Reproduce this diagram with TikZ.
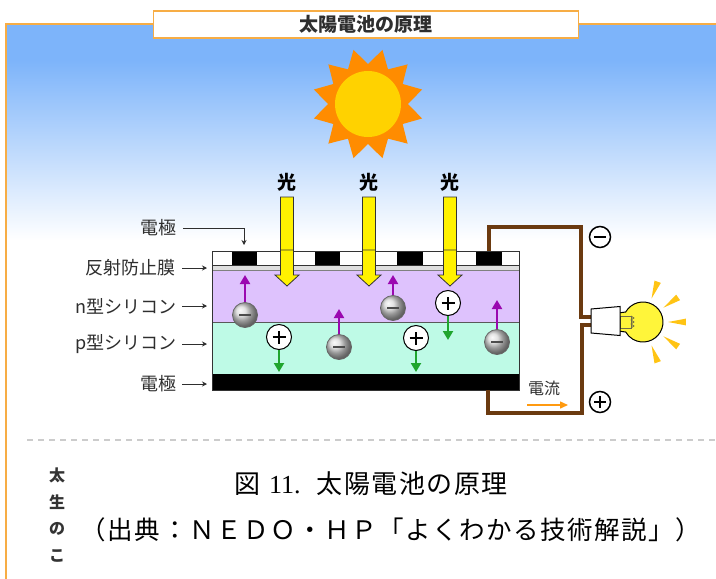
\documentclass[tikz,border=0pt]{standalone}
\usepackage{fontspec}
\setmainfont{Liberation Serif}
\newfontfamily\jp{Noto Sans CJK JP}
\newfontfamily\jpwide{Noto Sans CJK JP}[LetterSpace=6]
\usetikzlibrary{arrows.meta,calc}

\definecolor{skytop}{HTML}{7DB4FA}
\definecolor{frameor}{HTML}{F7AD45}
\definecolor{wirebrown}{HTML}{6B3A10}
\definecolor{ntype}{HTML}{DEC2FD}
\definecolor{ptype}{HTML}{BEFAE6}
\definecolor{lightyel}{HTML}{FFF200}
\definecolor{sunray}{HTML}{FF8C00}
\definecolor{suncore}{HTML}{FFD200}
\definecolor{purp}{HTML}{9A08B0}
\definecolor{grn}{HTML}{1FA52E}
\definecolor{bulbyel}{HTML}{FFF53A}
\definecolor{rayyel}{HTML}{FFC414}
\definecolor{txt}{HTML}{2E2E2E}
\definecolor{curor}{HTML}{FF9A10}

% sky: solid blue at the top, fading to white further down
% (the visible part of a fitted shading is its 25bp--75bp band)
\pgfdeclareverticalshading{sky}{100bp}{color(0bp)=(white); color(26bp)=(white); color(67bp)=(skytop); color(100bp)=(skytop)}

\tikzset{
  frameline/.style={frameor, line width=2.4pt},
  titlebox/.style={draw=frameor, line width=1.6pt, fill=white, minimum width=425pt,
    minimum height=27pt, inner sep=0pt, font=\jp\bfseries\fontsize{19}{22}\selectfont, text=txt},
  lightlbl/.style={font=\jp\bfseries\fontsize{19}{22}\selectfont, text=black, inner sep=0pt},
  lightarrow/.style={fill=lightyel, draw=black!80, line width=0.8pt, line join=miter},
  lbl/.style={font=\jp\fontsize{18}{21}\selectfont, text=txt, anchor=east, inner sep=0pt},
  lblarrow/.style={draw=txt, line width=1pt, -{Stealth[length=5pt,width=5pt]}},
  electron/.style={circle, inner sep=0pt, minimum size=25pt, draw=black!60, line width=0.8pt,
    shade, ball color=gray!30,
    path picture={\draw[line width=2pt, black!70]
      ([xshift=-6pt]path picture bounding box.center) -- ([xshift=6pt]path picture bounding box.center);}},
  hole/.style={circle, inner sep=0pt, minimum size=25pt, draw=black, line width=1pt, fill=white,
    path picture={\draw[line width=1.6pt, black]
      ([xshift=-6.5pt]path picture bounding box.center) -- ([xshift=6.5pt]path picture bounding box.center)
      ([yshift=-6.5pt]path picture bounding box.center) -- ([yshift=6.5pt]path picture bounding box.center);}},
  eup/.style={purp, line width=2pt, -{Triangle[width=10pt,length=9pt]}},
  hdown/.style={grn, line width=2pt, -{Triangle[width=10pt,length=9pt]}},
  wire/.style={wirebrown, line width=3.5pt, line join=miter},
  sgnm/.style={circle, inner sep=0pt, minimum size=21pt, draw=black, line width=1.5pt, fill=white,
    path picture={\draw[line width=1.8pt, black]
      ([xshift=-6pt]path picture bounding box.center) -- ([xshift=6pt]path picture bounding box.center);}},
  sgnp/.style={circle, inner sep=0pt, minimum size=21pt, draw=black, line width=1.5pt, fill=white,
    path picture={\draw[line width=1.8pt, black]
      ([xshift=-6pt]path picture bounding box.center) -- ([xshift=6pt]path picture bounding box.center)
      ([yshift=-6pt]path picture bounding box.center) -- ([yshift=6pt]path picture bounding box.center);}},
}

\begin{document}
\begin{tikzpicture}[x=1pt,y=-1pt]
\useasboundingbox (0,0) rectangle (716,579);
\fill[white] (0,0) rectangle (716,579);

% sky and frame
\shade[shading=sky] (7,25) rectangle (716,245);
\draw[frameline] (6,579) -- (6,24) -- (716,24);
\node[titlebox] (title) at (366,24.5) {太陽電池の原理};

% sun
\coordinate (sun) at (368,104);
\fill[sunray, shift={(368,104)}] (15:56)
  \foreach \i [evaluate=\i as \r using {56-16*mod(\i,2)}] in {1,...,23} { -- ({15+15*\i}:\r) } -- cycle;
\fill[suncore] (sun) circle[radius=33];

% incoming light
\foreach \x/\n in {287/1,369/2,450/3} {
  \node[lightlbl] (light\n) at (\x,182) {光};
  \filldraw[lightarrow] (\x-6.5,197) -- (\x+6.5,197) -- (\x+6.5,275) -- (\x+12,275)
    -- (\x,286) -- (\x-12,275) -- (\x-6.5,275) -- cycle;
}

% cell layers
\fill[ntype] (212,271) rectangle (519,322);
\fill[ptype] (212,322) rectangle (519,374);
\fill[black] (212,374) rectangle (519,390);
\draw[black!65, line width=1pt] (212,322) -- (519,322);
\fill[gray!25] (212,265) rectangle (519,271);
\draw[black!75, line width=1pt] (212,265.5) -- (519,265.5);
\draw[gray, line width=1pt] (212,270.5) -- (519,270.5);
\filldraw[fill=white, draw=black!80, line width=1pt] (212,251) rectangle (519,265);
\foreach \a/\b in {232/257,315/340,397/423,476/502}
  \fill[black] (\a,251) rectangle (\b,265);
\draw[black!80, line width=1pt] (212,251) rectangle (519,390);

% light arrows pass over the cell surface
\foreach \x in {287,369,450}
  \filldraw[lightarrow] (\x-6.5,250) -- (\x+6.5,250) -- (\x+6.5,275) -- (\x+12,275)
    -- (\x,286) -- (\x-12,275) -- (\x-6.5,275) -- cycle;

% layer labels
\node[lbl] (lE1) at (177,228) {電極};
\node[lbl] (lAR) at (176,268) {反射防止膜};
\node[lbl] (lN)  at (177,306) {n型シリコン};
\node[lbl] (lP)  at (177,344) {p型シリコン};
\node[lbl] (lE2) at (177,384) {電極};
\coordinate (tE1) at (244,245);
\coordinate (tAR) at (207,268);
\coordinate (tN)  at (207,306);
\coordinate (tP)  at (207,344);
\coordinate (tE2) at (207,384);
\draw[lblarrow] ([xshift=6pt]lE1.east) -| (tE1);
\draw[lblarrow] ([xshift=6pt]lAR.east) -- (tAR);
\draw[lblarrow] ([xshift=5pt]lN.east) -- (tN);
\draw[lblarrow] ([xshift=5pt]lP.east) -- (tP);
\draw[lblarrow] ([xshift=5pt]lE2.east) -- (tE2);

% electrons and holes
\node[electron] (m1) at (245,315) {};
\node[electron] (m2) at (339,347) {};
\node[electron] (m3) at (393,308) {};
\node[electron] (m4) at (497,342) {};
\node[hole] (p1) at (279,337) {};
\node[hole] (p2) at (448,303) {};
\node[hole] (p3) at (416,338) {};
\coordinate (m1t) at (245,275);
\coordinate (m2t) at (339,309);
\coordinate (m3t) at (393,275);
\coordinate (m4t) at (497,300);
\coordinate (p1t) at (279,372);
\coordinate (p2t) at (448,340);
\coordinate (p3t) at (416,372);
\draw[eup] (m1.north) -- (m1t);
\draw[eup] (m2.north) -- (m2t);
\draw[eup] (m3.north) -- (m3t);
\draw[eup] (m4.north) -- (m4t);
\draw[hdown] (p1.south) -- (p1t);
\draw[hdown] (p2.south) -- (p2t);
\draw[hdown] (p3.south) -- (p3t);

% external circuit
\coordinate (wa) at (489,251);
\coordinate (wb) at (581,227);
\coordinate (bu1) at (592,317);
\coordinate (wc) at (488,390);
\coordinate (wd) at (582,413);
\coordinate (bu2) at (592,325);
\draw[wire] (wa) |- (wb) |- (bu1);
\draw[wire] (wc) |- (wd) |- (bu2);
\node[sgnm] (minus) at (600,237) {};
\node[sgnp] (plus) at (600,402) {};
\node[font=\jp\fontsize{16}{18}\selectfont, text=txt, inner sep=0pt] (cur) at (544,388) {電流};
\coordinate (ca) at (527,405);
\coordinate (cb) at (568,405);
\draw[curor, line width=1.5pt, -{Triangle[width=7pt,length=8pt]}] (ca) -- (cb);

% light bulb
\coordinate (bc) at (643,322);
\foreach \a in {-70,-35,0,35,70}
  \fill[rayyel] ($(bc)+(\a:25)$) -- ($(bc)+(\a-4.5:43)$) -- ($(bc)+(\a+4.5:43)$) -- cycle;
\filldraw[fill=bulbyel, draw=black, line width=1pt] (618,313) -- ($(bc)+(210:20)$)
  arc[start angle=210, end angle=510, radius=20] -- (618,331) -- cycle;
\draw[black!55!yellow!80!black, line width=0.9pt] (620,316) rectangle (631,328);
\draw[black!55!yellow!80!black, line width=0.8pt] (631,316) -- (634,318) -- (631,320)
  -- (634,322) -- (631,324) -- (634,326) -- (631,328);
\filldraw[fill=white, draw=black, line width=1pt] (591,309) -- (620,306.5) -- (620,335.5) -- (591,333) -- cycle;

% separator and caption
\draw[gray!40, line width=1.6pt, dash pattern=on 6pt off 5pt] (27,440) -- (716,440);
\node[font=\jp\bfseries\fontsize{16}{26.5}\selectfont, text=black!80, align=center, inner sep=0pt]
  (side) at (57,515) {太\\生\\の\\こ};
\node[font=\fontsize{26}{30}\selectfont, inner sep=0pt] (cap) at (371,484)
  {{\jp 図}\hspace{9pt}11.\hspace{16pt}{\jpwide 太陽電池の原理}};
\node[font=\jpwide\fontsize{25.5}{30}\selectfont, inner sep=0pt] (src) at (391,530)
  {（出典：ＮＥＤＯ・ＨＰ「よくわかる技術解説」）};
\end{tikzpicture}
\end{document}
